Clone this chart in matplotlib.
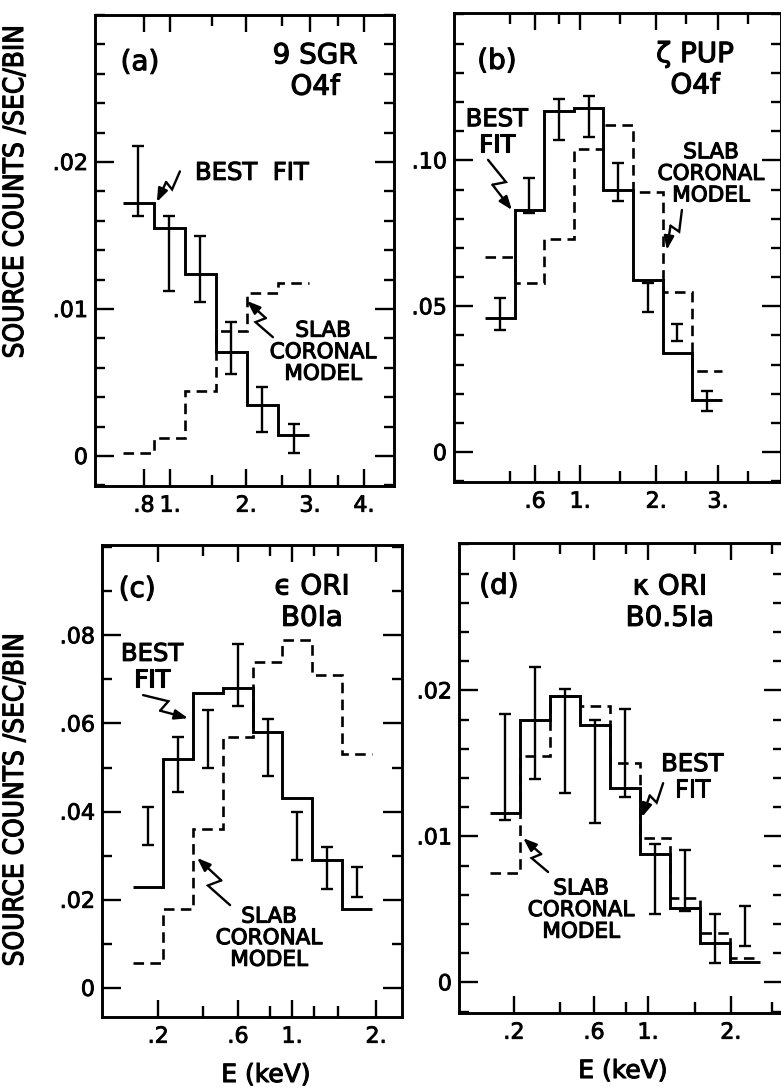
import numpy as np
import matplotlib
matplotlib.use("Agg")
import matplotlib.pyplot as plt
import matplotlib.patheffects as pe
from matplotlib.ticker import FixedLocator, MultipleLocator
from matplotlib.font_manager import FontProperties, findfont

W, H = 781, 1089

# (a) 9 SGR, counts per pulse-height bin
a_fit = [0.0172, 0.0155, 0.0124, 0.0071, 0.0035, 0.0014]
a_slab = [0.0002, 0.0012, 0.0044, 0.0085, 0.0111, 0.0118]
a_lo = [0.0163, 0.0112, 0.0105, 0.0056, 0.0016, 0.0002]
a_hi = [0.0211, 0.0163, 0.0150, 0.0091, 0.0047, 0.0022]
a_xmaj = [0.68, 1.52, 3.97, 6.03, 7.77]
a_xlab = [".8", "1.", "2.", "3.", "4."]
a_xmin = [2.87, 5.13, 6.94]

# (b) zeta PUP
b_fit = [0.046, 0.083, 0.117, 0.118, 0.090, 0.059, 0.034, 0.018]
b_slab = [0.067, 0.058, 0.073, 0.104, 0.112, 0.089, 0.055, 0.028]
b_lo = [0.042, 0.082, 0.107, 0.108, 0.086, 0.048, 0.038, 0.014]
b_hi = [0.053, 0.094, 0.121, 0.122, 0.099, 0.058, 0.044, 0.021]
b_xmaj = [1.69, 3.21, 5.78, 7.87]
b_xlab = [".6", "1.", "2.", "3."]
b_xmin = [0.84, 2.50, 4.56, 6.79, 8.89]

# (c) epsilon ORI
c_fit = [0.023, 0.052, 0.067, 0.068, 0.058, 0.043, 0.029, 0.018]
c_slab = [0.0057, 0.018, 0.036, 0.057, 0.074, 0.079, 0.071, 0.053]
c_lo = [0.0325, 0.0445, 0.050, 0.064, 0.048, 0.029, 0.0225, 0.0207]
c_hi = [0.041, 0.057, 0.063, 0.078, 0.061, 0.040, 0.032, 0.0275]
c_xmaj = [0.84, 3.51, 5.32, 8.13]
c_xlab = [".2", ".6", "1.", "2."]
c_xmin = [2.34, 4.58, 6.05, 6.86]

# (d) kappa ORI
d_fit = [0.0116, 0.0180, 0.0196, 0.0176, 0.0133, 0.0088, 0.0051, 0.0027, 0.0014]
d_slab = [0.0075, 0.0155, 0.0196, 0.0189, 0.0150, 0.0099, 0.0058, 0.0034, 0.0017]
d_lo = [0.0111, 0.0139, 0.0130, 0.0109, 0.0127, 0.0047, 0.0049, 0.0013, 0.0025]
d_hi = [0.0184, 0.0216, 0.0201, 0.0180, 0.0187, 0.0095, 0.0091, 0.0047, 0.0052]
d_xmaj = [0.80, 3.47, 5.27, 8.03]
d_xlab = [".2", ".6", "1.", "2."]
d_xmin = [2.33, 4.53, 6.83, 9.4]

plt.rcParams["font.family"] = ["DejaVu Sans"]

# hand lettering is heavier than the plain font, thicken it a little
HEAVY = [pe.withStroke(linewidth=0.8, foreground="k")]

fig = plt.figure(figsize=(W / 100, H / 100), dpi=100)
fig.patch.set_facecolor("white")


def add_box(x0, y0, x1, y1):
    return fig.add_axes([x0 / W, 1 - y1 / H, (x1 - x0) / W, (y1 - y0) / H])


def bolt(ax, start, end, kink=0.12):
    # lightning-style pointer drawn in pixel space, then mapped back to axes fraction
    tr = ax.transAxes
    p0 = tr.transform(start)
    p3 = tr.transform(end)
    v = p3 - p0
    L = np.hypot(*v)
    n = np.array([-v[1], v[0]]) / L
    p1 = p0 + 0.50 * v + kink * L * n
    p2 = p0 + 0.44 * v - kink * L * n
    pts = tr.inverted().transform(np.array([p0, p1, p2]))
    ax.plot(pts[:, 0], pts[:, 1], color="k", lw=1.7, transform=tr, clip_on=False,
            solid_capstyle="round", solid_joinstyle="miter")
    ax.annotate("", xy=end, xytext=tuple(pts[2]), xycoords="axes fraction",
                arrowprops=dict(arrowstyle="-|>,head_length=0.8,head_width=0.3",
                                lw=1.7, color="k", shrinkA=0, shrinkB=0))


def panel(ax, fit, slab, lo, hi, xlim, ylim, ymaj, ylab, ystep, xmaj, xlab, xmin):
    n = len(fit)
    edges = np.arange(n + 1)
    centers = edges[:-1] + 0.5
    lo = np.array(lo)
    hi = np.array(hi)
    mid = (lo + hi) / 2
    ax.stairs(fit, edges, baseline=None, color="k", lw=2.1)
    ax.stairs(slab, edges, baseline=None, color="k", lw=1.9, linestyle=(0, (4.0, 2.4)))
    ax.errorbar(centers, mid, yerr=[mid - lo, hi - mid], fmt="none", ecolor="k",
                elinewidth=1.7, capsize=4.5, capthick=1.7)
    ax.set_xlim(*xlim)
    ax.set_ylim(*ylim)
    ax.yaxis.set_major_locator(FixedLocator(ymaj))
    ax.set_yticklabels(ylab)
    ax.yaxis.set_minor_locator(MultipleLocator(ystep))
    ax.xaxis.set_major_locator(FixedLocator(xmaj))
    ax.set_xticklabels(xlab)
    ax.xaxis.set_minor_locator(FixedLocator(xmin))
    ax.tick_params(which="both", direction="in", top=True, right=True, width=1.7,
                   labelsize=16)
    ax.tick_params(axis="y", which="major", length=14, pad=5)
    ax.tick_params(axis="y", which="minor", length=7)
    ax.tick_params(axis="x", which="major", length=12, pad=7)
    ax.tick_params(axis="x", which="minor", length=8)
    for t in ax.get_xticklabels() + ax.get_yticklabels():
        t.set_path_effects([pe.withStroke(linewidth=0.6, foreground="k")])
    for s in ax.spines.values():
        s.set_linewidth(2.1)


txt_big = dict(fontsize=20, ha="center", va="center", linespacing=1.15, path_effects=HEAVY)
txt_lbl = dict(fontsize=20, ha="center", va="center", path_effects=HEAVY)
txt_fit = dict(fontsize=17.5, ha="center", va="center", linespacing=1.1, path_effects=HEAVY)
txt_slab = dict(fontsize=15.5, ha="center", va="center", linespacing=1.1, path_effects=HEAVY)

# ---- (a)
ax = add_box(95, 15, 394, 486)
panel(ax, a_fit, a_slab, a_lo, a_hi, (-0.90, 8.74), (-0.00204, 0.0300),
      [0, 0.01, 0.02], ["0", ".01", ".02"], 0.002, a_xmaj, a_xlab, a_xmin)
ax.text(0.15, 0.90, "(a)", transform=ax.transAxes, **txt_lbl)
ax.text(0.736, 0.881, "9 SGR\nO4f", transform=ax.transAxes, **txt_big)
ax.text(0.525, 0.665, "BEST  FIT", transform=ax.transAxes, **txt_fit)
bolt(ax, (0.284, 0.668), (0.207, 0.603))
ax.text(0.763, 0.284, "SLAB\nCORONAL\nMODEL", transform=ax.transAxes, **txt_slab)
bolt(ax, (0.595, 0.316), (0.508, 0.393))

# ---- (b)
ax = add_box(454, 13, 781, 482)
panel(ax, b_fit, b_slab, b_lo, b_hi, (-1.05, 10.0), (-0.0102, 0.1505),
      [0, 0.05, 0.10], ["0", ".05", ".10"], 0.01, b_xmaj, b_xlab, b_xmin)
ax.text(0.131, 0.898, "(b)", transform=ax.transAxes, **txt_lbl)
ax.text(0.737, 0.879, "\u03b6 PUP\nO4f", transform=ax.transAxes, **txt_big)
ax.text(0.131, 0.746, "BEST\nFIT", transform=ax.transAxes, **txt_fit)
bolt(ax, (0.104, 0.687), (0.177, 0.580))
ax.text(0.786, 0.657, "SLAB\nCORONAL\nMODEL", transform=ax.transAxes, **txt_slab)
bolt(ax, (0.697, 0.580), (0.651, 0.495))

# ---- (c)
ax = add_box(102, 545, 402, 1017)
panel(ax, c_fit, c_slab, c_lo, c_hi, (-1.04, 9.0), (-0.0066, 0.1005),
      [0, 0.02, 0.04, 0.06, 0.08], ["0", ".02", ".04", ".06", ".08"], 0.01,
      c_xmaj, c_xlab, c_xmin)
ax.text(0.117, 0.907, "(c)", transform=ax.transAxes, **txt_lbl)
ax.text(0.70, 0.879, "\u03f5 ORI\nB0Ia", transform=ax.transAxes, **txt_big)
ax.text(0.167, 0.742, "BEST\nFIT", transform=ax.transAxes, **txt_fit)
bolt(ax, (0.137, 0.682), (0.287, 0.633))
ax.text(0.557, 0.167, "SLAB\nCORONAL\nMODEL", transform=ax.transAxes, **txt_slab)
bolt(ax, (0.427, 0.237), (0.317, 0.337))

# ---- (d)
ax = add_box(459, 543, 783, 1013)
panel(ax, d_fit, d_slab, d_lo, d_hi, (-1.03, 9.77), (-0.0021, 0.0301),
      [0, 0.01, 0.02], ["0", ".01", ".02"], 0.002, d_xmaj, d_xlab, d_xmin)
ax.text(0.123, 0.909, "(d)", transform=ax.transAxes, **txt_lbl)
ax.text(0.651, 0.874, "\u03ba ORI\nB0.5Ia", transform=ax.transAxes, **txt_big)
ax.text(0.72, 0.502, "BEST\nFIT", transform=ax.transAxes, **txt_fit)
bolt(ax, (0.63, 0.489), (0.565, 0.417))
ax.text(0.377, 0.219, "SLAB\nCORONAL\nMODEL", transform=ax.transAxes, **txt_slab)
bolt(ax, (0.275, 0.300), (0.198, 0.372))

# shared axis titles; the lettering on the y titles is condensed
cond = FontProperties(family="DejaVu Sans", stretch="condensed")
if "Condensed" in findfont(cond):
    ylab_kw = dict(fontsize=20, family="DejaVu Sans", fontstretch="condensed")
else:
    ylab_kw = dict(fontsize=17, family="DejaVu Sans")
fig.text(15 / W, 1 - 192 / H, "SOURCE COUNTS /SEC/BIN", rotation=90,
         ha="center", va="center", path_effects=HEAVY, **ylab_kw)
fig.text(15 / W, 1 - 800 / H, "SOURCE COUNTS /SEC/BIN", rotation=90,
         ha="center", va="center", path_effects=HEAVY, **ylab_kw)
fig.text(266 / W, 1 - 1075 / H, "E (keV)", fontsize=18, ha="center", va="center",
         path_effects=HEAVY)
fig.text(623 / W, 1 - 1071 / H, "E (keV)", fontsize=18, ha="center", va="center",
         path_effects=HEAVY)

fig.savefig("out.png", dpi=100, facecolor="white")
